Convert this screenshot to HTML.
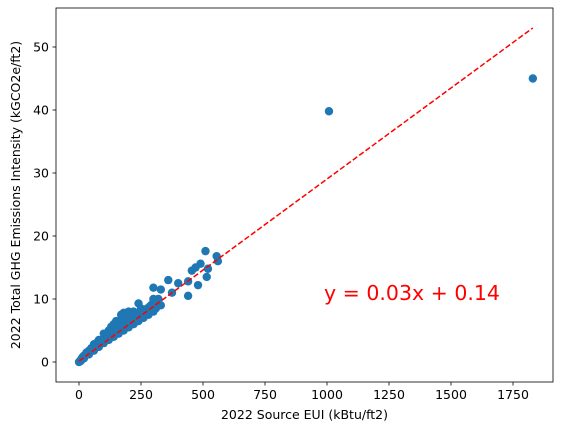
<!DOCTYPE html>
<html><head><meta charset="utf-8"><style>body{margin:0;background:#fff}svg{display:block;font-family:"DejaVu Sans","Liberation Sans",sans-serif}</style></head>
<body>
<svg id="chart" width="563" height="432" viewBox="0 0 563 432"></svg>
<script>
const xs = [510,555,560,490,470,455,520,515,480,440,440,400,375,360,330,300,330,300,310,240,220,200,180,170,150,140,120,100,80,60,40,20,10,5,300,280,260,240,220,200,180,160,140,120,100,80,60,40,20,250,230,210,190,170,150,130,110,90,70,50,30,15,0,270,290,320,1008,1830,
  160,175,185,195,205,215,225,235,245,255,265,275,285,125,135,145,155,165,105,115,95,85,75,65,55,45,35,25,10,5,200,210,180,190,170,150,130,140,160,120,110,100,90,260,250,240,230,290,310,280,300];
const ys = [17.6,16.8,16,15.6,15,14.5,14.8,13.5,12.2,12.8,10.5,12.5,11,13,11.5,11.8,9,10,8.5,9.3,8,8,7.8,7.5,6.5,6,5,4.5,3.5,2.8,1.8,1,0.5,0.2,8,7.5,7,6.5,6,5.5,5,4.5,4,3.5,3,2.4,1.8,1.2,0.6,8.5,7,7,6.5,6,5.5,5,4,3.5,3,2.2,1.5,0.8,0,8,9,10,39.8,45,
  5.5,6,6.2,6.5,6.8,7,7.2,7.5,7.8,8,8.2,8.5,8.8,4.2,4.6,5,5.3,5.8,3.6,3.9,3.2,2.9,2.6,2.3,2,1.6,1.3,1,0.3,0.1,6.8,7.3,6.8,6,6.6,6.3,5.6,5.3,5,4.8,4.4,3.8,3.4,7.6,7.3,7,6.8,8.1,9.2,7.8,9.5];
const xTicks = [0,250,500,750,1000,1250,1500,1750];
const yTicks = [0,10,20,30,40,50];
const slope = 0.0289, intercept = 0.14;
const fitRange = [0,1830];

const L=56,R=553,T=8,B=382;
const sx=v=>79+v*0.248, sy=v=>362-v*6.3;
const svg=document.getElementById('chart');
const NS='http://www.w3.org/2000/svg';
function mk(tag,attrs,parent){const e=document.createElementNS(NS,tag);for(const k in attrs)e.setAttribute(k,attrs[k]);(parent||svg).appendChild(e);return e;}

xs.forEach((x,i)=>{const c=mk('circle',{cx:sx(x),cy:sy(ys[i]),r:4.2,fill:'#1f77b4'});

});

const fl=mk('line',{x1:sx(fitRange[0]),y1:sy(intercept+slope*fitRange[0]),x2:sx(fitRange[1]),y2:sy(intercept+slope*fitRange[1]),stroke:'red','stroke-width':1.5,'stroke-dasharray':'5.5,2.4'});



const fr=mk('rect',{x:L,y:T,width:R-L,height:B-T,fill:'none',stroke:'#000','stroke-width':0.8});



xTicks.forEach(t=>{const x=sx(t);mk('line',{x1:x,y1:B,x2:x,y2:B+3.5,stroke:'#000','stroke-width':0.8});
const tx=mk('text',{x:x,y:B+17,'text-anchor':'middle','font-size':12.5,fill:'#000'});tx.textContent=t;

});
yTicks.forEach(t=>{const y=sy(t);mk('line',{x1:L,y1:y,x2:L-3.5,y2:y,stroke:'#000','stroke-width':0.8});
const tx=mk('text',{x:L-7,y:y+4.5,'text-anchor':'end','font-size':12.5,fill:'#000'});tx.textContent=t;

});

const xt=mk('text',{x:(L+R)/2,y:419,'text-anchor':'middle','font-size':12.5,fill:'#000'});xt.textContent='2022 Source EUI (kBtu/ft2)';


const yt=mk('text',{x:0,y:0,'text-anchor':'middle','font-size':12.5,fill:'#000',transform:`translate(20,${(T+B)/2}) rotate(-90)`});yt.textContent='2022 Total GHG Emissions Intensity (kGCO2e/ft2)';


const eq=mk('text',{x:324,y:300,'font-size':20.5,fill:'red'});eq.textContent='y = 0.03x + 0.14';


</script>
</body></html>
